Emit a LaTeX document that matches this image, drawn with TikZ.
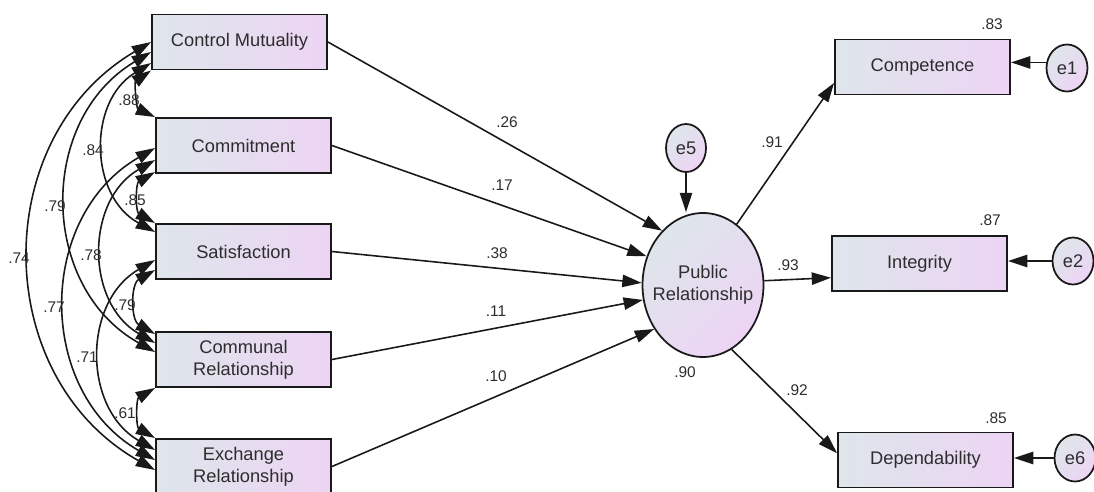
\documentclass[tikz,border=0pt]{standalone}
\usepackage{fontspec}
\setmainfont{Liberation Sans}
\usetikzlibrary{arrows.meta,calc,shapes.geometric}
\definecolor{boxL}{RGB}{222,230,235}
\definecolor{boxR}{RGB}{237,212,244}
\definecolor{ink}{RGB}{25,25,25}
\definecolor{txt}{RGB}{45,45,45}
\begin{document}
\begin{tikzpicture}[x=0.02cm,y=-0.02cm,
  font=\fontsize{10.4}{12.5}\selectfont,
  >={Triangle[length=11pt,width=7pt]},
  var/.style={draw=ink,line width=1.1pt,left color=boxL,right color=boxR,
    minimum width=3.5cm,minimum height=1.1cm,align=center,inner sep=0pt,text=txt},
  lat/.style={draw=ink,line width=1pt,ellipse,left color=boxL,right color=boxR,
    shading angle=45,align=center,inner sep=0pt,text=txt},
  errc/.style={lat,minimum width=0.82cm,minimum height=0.94cm},
  path/.style={->,draw=ink,line width=0.9pt},
  cov/.style={<->,draw=ink,line width=0.9pt},
  num/.style={font=\fontsize{8.8}{10}\selectfont,text=txt,inner sep=0pt}]
\useasboundingbox (0,0) rectangle (1094,491);

% observed exogenous variables
\node[var] (cm)   at (239.5,42)  {Control Mutuality};
\node[var] (com)  at (243.5,145.5) {Commitment};
\node[var] (sat)  at (243.5,251.5) {Satisfaction};
\node[var] (comm) at (243.5,359.5) {Communal\\Relationship};
\node[var] (exch) at (243.5,466.5) {Exchange\\Relationship};

% indicators
\node[var] (comp)  at (922.5,67)   {Competence};
\node[var] (integ) at (919.5,263.5) {Integrity};
\node[var] (dep)   at (925.5,460)  {Dependability};

% latent and errors
\node[lat,minimum width=2.42cm,minimum height=2.88cm] (pr) at (703,285)
  {\makebox[0pt][c]{Public}\\\makebox[0pt][c]{Relationship}};
\node[errc,minimum width=0.8cm,minimum height=0.96cm] (e5) at (686,148) {e5};
\node[errc] (e1) at (1067,68)  {e1};
\node[errc] (e2) at (1073,261) {e2};
\node[errc] (e6) at (1075,458) {e6};

% structural paths
\draw[path] (cm.east)   -- (pr.127);
\draw[path] (com.east)  -- (pr.153);
\draw[path] (sat.east)  -- (pr.178);
\draw[path] (comm.east) -- (pr.194);
\draw[path] (exch.east) -- (pr.222);
\draw[path] (pr.61) -- ($(comp.south west)!0.22!(comp.north west)$);
\draw[path] (pr.4) -- ($(integ.south west)!0.25!(integ.north west)$);
\draw[path] (pr.-66) -- ($(dep.south west)!0.62!(dep.north west)$);
\draw[path] (e5) -- (e5 |- pr.north);
\draw[path] (e1.165) -- (comp.east |- e1.165);
\draw[path] (e2) -- (integ.east |- e2);
\draw[path] (e6) -- (dep.east |- e6);

% covariances
\tikzset{bnd/.style={bend right=60,looseness=1.13}}
\draw[cov] ($(cm.west)+(0,0)$)  to[bnd] ($(exch.west)+(0,3.5)$);
\draw[cov] ($(cm.west)+(0,10)$) to[bnd] ($(comm.west)+(0,-7.5)$);
\draw[cov] ($(cm.west)+(0,21)$) to[bnd] ($(sat.west)+(0,-19.5)$);
\draw[cov] (cm.south west)      to[bnd] (com.north west);
\draw[cov] ($(com.west)+(0,2.5)$)  to[bnd] ($(exch.west)+(0,-6.5)$);
\draw[cov] ($(com.west)+(0,14.5)$) to[bnd] ($(comm.west)+(0,-16.5)$);
\draw[cov] ($(com.west)+(0,26.5)$) to[bnd] (sat.north west);
\draw[cov] ($(sat.west)+(0,8.5)$)  to[bnd] ($(exch.west)+(0,-16.5)$);
\draw[cov] ($(sat.west)+(0,18.5)$) to[bnd] ($(comm.west)+(0,-25.5)$);
\draw[cov] (comm.south west)       to[bnd] (exch.north west);

% covariance labels
\node[num] (c88) at (129,100) {.88};
\node[num] (c84) at (93,150)  {.84};
\node[num] (c79a) at (55,206) {.79};
\node[num] (c74) at (19,258)  {.74};
\node[num] (c78) at (91,255)  {.78};
\node[num] (c77) at (54,307)  {.77};
\node[num] (c71) at (87,357)  {.71};
\node[num] (c85) at (135,200) {.85};
\node[num] (c79b) at (125,305) {.79};
\node[num] (c61) at (125,413) {.61};

% path labels
\node[num] (p26) at (507,122) {.26};
\node[num] (p17) at (502,185) {.17};
\node[num] (p38) at (497,253) {.38};
\node[num] (p11) at (496,311) {.11};
\node[num] (p10) at (496,376) {.10};
\node[num] (p91) at (772,142) {.91};
\node[num] (p93) at (788,265) {.93};
\node[num] (p92) at (797,390) {.92};
\node[num] (r90) at (685,372) {.90};
\node[num] (r83) at (992,24)  {.83};
\node[num] (r87) at (990,220) {.87};
\node[num] (r85) at (996,418) {.85};
\end{tikzpicture}
\end{document}
